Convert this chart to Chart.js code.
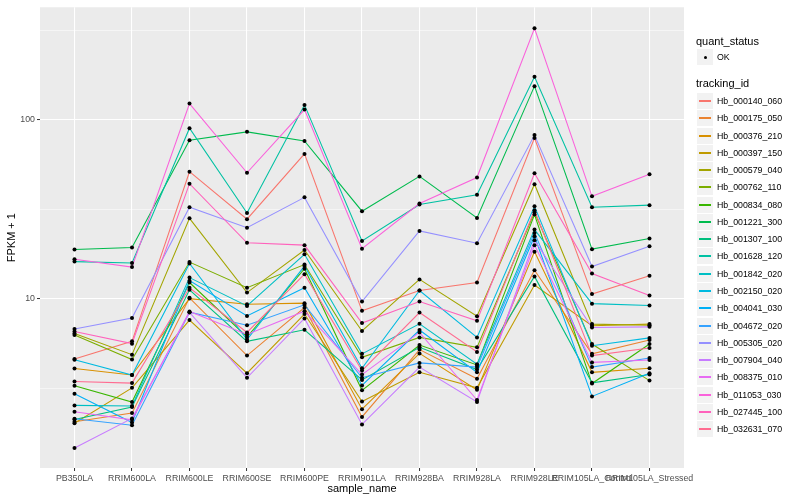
<!DOCTYPE html>
<html lang="en">
<head>
<meta charset="UTF-8">
<title>FPKM + 1 by sample_name</title>
<script src="https://cdn.jsdelivr.net/npm/chart.js"></script>
<style>
  body { margin: 0; background: #fff; font-family: 'Liberation Sans', Arial, sans-serif; }
  .wrap { position: relative; width: 800px; height: 500px; }
  .legend { position: absolute; left: 696px; top: 0; width: 104px; height: 500px; color: #000; }
  .legend-title { position: absolute; left: 0; font-size: 11px; line-height: 12px; height: 12px; white-space: nowrap; }
  .key { position: absolute; left: 1px; width: 16px; height: 16px; background: #f2f2f2; }
  .key-line { position: absolute; left: 2px; width: 12px; top: 7px; height: 2px; }
  .key-dot { position: absolute; left: 6.5px; top: 6.5px; width: 3px; height: 3px; border-radius: 50%; background: #000; }
  .key-label { position: absolute; left: 21px; font-size: 8.8px; line-height: 10px; height: 10px; white-space: nowrap; }
</style>
</head>
<body>
<div class="wrap">
  <canvas id="chart" width="800" height="500"></canvas>
  <div class="legend" id="legend"></div>
</div>
<script>
    // sample columns along x
    const categories = ['PB350LA', 'RRIM600LA', 'RRIM600LE', 'RRIM600SE', 'RRIM600PE', 'RRIM901LA',
        'RRIM928BA', 'RRIM928LA', 'RRIM928LE', 'RRIM105LA_Control', 'RRIM105LA_Stressed'];

    // FPKM + 1 per tracking id, one value per sample
    const hb_000140_060 = [4.6, 5.77, 51.2, 27.8, 64.4, 8.54, 11.1, 12.3, 79, 10.6, 13.4];
    const hb_000175_050 = [2.05, 2.29, 10.1, 4.8, 8.9, 2.18, 5.19, 3.56, 14.4, 4.91, 5.87];
    const hb_000376_210 = [4.07, 3.74, 10.0, 9.3, 9.43, 2.41, 4.94, 3.09, 18.3, 3.87, 4.08];
    const hb_000397_150 = [2.01, 3.17, 7.58, 3.83, 8.2, 2.66, 3.87, 3.17, 11.9, 7.05, 7.2];
    const hb_000579_040 = [6.38, 4.86, 28.1, 10.8, 18.7, 6.59, 12.8, 7.98, 43.6, 7.2, 7.1];
    const hb_000762_110 = [6.25, 4.56, 16.0, 11.5, 15.5, 4.7, 6.07, 5.34, 30.4, 5.57, 3.48];
    const hb_000834_080 = [3.26, 2.64, 12.3, 6.1, 14.7, 3.07, 5.5, 4.26, 29.5, 3.35, 5.57];
    const hb_001221_300 = [18.8, 19.3, 76.8, 85.5, 76.1, 30.8, 48.2, 28.2, 154, 18.9, 21.7];
    const hb_001307_100 = [2.11, 2.48, 11.2, 5.77, 6.69, 3.51, 5.34, 4.01, 13.3, 3.38, 3.76];
    const hb_001628_120 = [16.1, 15.8, 89.6, 30.1, 121, 21.0, 33.6, 38.1, 174, 32.4, 33.3];
    const hb_001842_020 = [2.53, 2.51, 13.1, 9.1, 17.7, 4.91, 7.23, 4.3, 24.3, 9.37, 9.14];
    const hb_002150_020 = [4.55, 3.74, 15.7, 5.9, 15.2, 4.08, 11.1, 6.07, 32.8, 5.45, 6.03];
    const hb_004041_030 = [2.94, 2.03, 12.6, 8.0, 11.5, 3.27, 6.67, 3.87, 22.3, 2.84, 3.83];
    const hb_004672_020 = [2.13, 1.96, 8.4, 7.1, 9.23, 3.61, 4.37, 4.14, 23.3, 4.14, 4.66];
    const hb_005305_020 = [6.76, 7.78, 32.4, 24.9, 36.8, 9.62, 23.9, 20.4, 82, 15.1, 19.6];
    const hb_007904_040 = [1.46, 2.14, 8.36, 3.61, 7.74, 1.98, 4.14, 2.64, 21.2, 6.9, 6.95];
    const hb_008375_010 = [2.33, 2.10, 8.47, 6.3, 8.5, 3.76, 6.47, 2.71, 19.9, 4.4, 4.54];
    const hb_011053_030 = [16.6, 15.0, 123, 50.5, 114, 19.0, 34.0, 47.5, 324, 37.3, 49.6];
    const hb_027445_100 = [6.55, 5.6, 43.9, 20.5, 19.9, 7.3, 9.63, 7.51, 50.2, 13.8, 10.4];
    const hb_032631_070 = [3.44, 3.37, 11.5, 6.47, 13.7, 3.96, 8.36, 5.03, 31.2, 4.8, 5.29];

    const trackingIds = ['Hb_000140_060', 'Hb_000175_050', 'Hb_000376_210', 'Hb_000397_150', 'Hb_000579_040',
        'Hb_000762_110', 'Hb_000834_080', 'Hb_001221_300', 'Hb_001307_100', 'Hb_001628_120',
        'Hb_001842_020', 'Hb_002150_020', 'Hb_004041_030', 'Hb_004672_020', 'Hb_005305_020',
        'Hb_007904_040', 'Hb_008375_010', 'Hb_011053_030', 'Hb_027445_100', 'Hb_032631_070'];
    const seriesValues = [hb_000140_060, hb_000175_050, hb_000376_210, hb_000397_150, hb_000579_040,
        hb_000762_110, hb_000834_080, hb_001221_300, hb_001307_100, hb_001628_120,
        hb_001842_020, hb_002150_020, hb_004041_030, hb_004672_020, hb_005305_020,
        hb_007904_040, hb_008375_010, hb_011053_030, hb_027445_100, hb_032631_070];

    // y ticks: labelled breaks and the unlabelled minor ones between them
    const yBreaks = [10, 100];
    const yMinor = [3.1623, 31.623, 316.23];

    // ggplot hue palette, 20 levels
    const colors = ['#F8766D', '#EA8331', '#D89000', '#C09B00', '#A3A500', '#7CAE00', '#39B600', '#00BB4E',
        '#00BF7D', '#00C1A3', '#00BFC4', '#00BAE0', '#00B0F6', '#35A2FF', '#9590FF', '#C77CFF',
        '#E76BF3', '#FA62DB', '#FF62BC', '#FF6C91'];

    Chart.defaults.font.family = "'Liberation Sans', Arial, sans-serif";

    const isMajor = v => yBreaks.some(b => Math.abs(b - v) < 1e-6);

    const panelBg = {
        id: 'panelBg',
        beforeDraw(chart) {
            const a = chart.chartArea;
            chart.ctx.save();
            chart.ctx.fillStyle = '#EBEBEB';
            chart.ctx.fillRect(a.left, a.top, a.right - a.left, a.bottom - a.top);
            chart.ctx.restore();
        }
    };

    const datasets = seriesValues.map((vals, i) => ({
        label: trackingIds[i],
        data: vals.map((v, j) => ({ x: j, y: v })),
        borderColor: colors[i],
        borderWidth: 1.07,
        pointRadius: 0,
        tension: 0,
        order: 40 - i
    }));
    datasets.push({
        label: 'OK',
        data: seriesValues.flatMap(vals => vals.map((v, j) => ({ x: j, y: v }))),
        showLine: false,
        pointRadius: 2,
        pointBackgroundColor: '#000',
        pointBorderWidth: 0,
        order: 0
    });

    new Chart(document.getElementById('chart'), {
        type: 'line',
        data: { datasets },
        plugins: [panelBg],
        options: {
            responsive: false,
            animation: false,
            layout: { padding: { left: 0, top: 5, right: 116, bottom: 0 } },
            plugins: { legend: { display: false }, tooltip: { enabled: false } },
            scales: {
                x: {
                    type: 'linear',
                    min: -0.6,
                    max: 10.6,
                    afterBuildTicks: scale => { scale.ticks = categories.map((c, i) => ({ value: i })); },
                    afterFit: scale => { scale.height = 32; },
                    ticks: {
                        autoSkip: false, maxRotation: 0, minRotation: 0, padding: 2,
                        color: '#4D4D4D', font: { size: 8.8 },
                        callback: v => categories[v]
                    },
                    grid: { color: '#FFFFFF', lineWidth: 1.07, tickColor: '#333333', tickLength: 3, tickWidth: 1 },
                    border: { display: false },
                    title: { display: true, text: 'sample_name', color: '#000', font: { size: 11 }, padding: { top: 0, bottom: 4 } }
                },
                y: {
                    type: 'logarithmic',
                    min: 1.13,
                    max: 425,
                    afterBuildTicks: scale => {
                        scale.ticks = yMinor.concat(yBreaks).sort((a, b) => a - b).map(v => ({ value: v }));
                    },
                    afterFit: scale => { scale.width = 40; },
                    ticks: {
                        padding: 2, color: '#4D4D4D', font: { size: 8.8 },
                        callback: v => isMajor(v) ? String(Math.round(v)) : ''
                    },
                    grid: {
                        color: '#FFFFFF',
                        lineWidth: ctx => isMajor(ctx.tick.value) ? 1.07 : 0.53,
                        tickColor: ctx => isMajor(ctx.tick.value) ? '#333333' : 'rgba(0,0,0,0)',
                        tickLength: 3, tickWidth: 1
                    },
                    border: { display: false },
                    title: { display: true, text: 'FPKM + 1', color: '#000', font: { size: 11 }, padding: { top: 5, bottom: 0 } }
                }
            }
        }
    });

    // legend on the right, ggplot style (whole pixels so the key lines stay crisp)
    const legend = document.getElementById('legend');
    let html = '<div class="legend-title" style="top:35px">quant_status</div>';
    html += '<div class="key" style="top:49px"><div class="key-dot"></div></div>';
    html += '<div class="key-label" style="top:52px">OK</div>';
    html += '<div class="legend-title" style="top:77px">tracking_id</div>';
    trackingIds.forEach((id, i) => {
        const cy = Math.round(101 + 17.27 * i);
        html += `<div class="key" style="top:${cy - 8}px"><div class="key-line" style="background:${colors[i]}"></div></div>`;
        html += `<div class="key-label" style="top:${cy - 5}px">${id}</div>`;
    });
    legend.innerHTML = html;
</script>
</body>
</html>
